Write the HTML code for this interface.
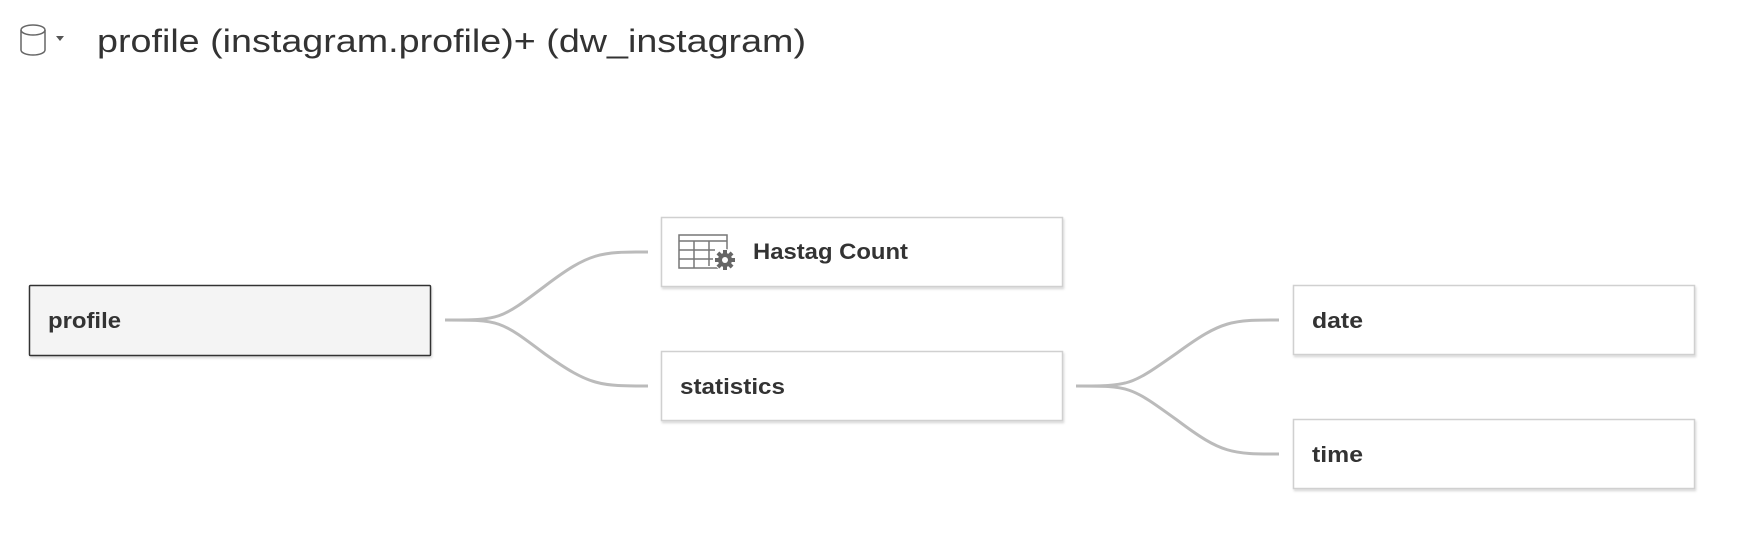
<!DOCTYPE html>
<html><head><meta charset="utf-8"><style>
html,body{margin:0;padding:0;background:#fff;}
svg{display:block;}
text{font-family:"Liberation Sans",sans-serif;}
</style></head><body>
<svg width="1746" height="552" viewBox="0 0 1746 552" xmlns="http://www.w3.org/2000/svg">
<defs>
<filter id="sh" x="-5%" y="-10%" width="110%" height="130%">
<feDropShadow dx="1" dy="2" stdDeviation="1" flood-color="#000" flood-opacity="0.15"/>
</filter>
</defs>
<!-- cylinder icon -->
<g fill="none" stroke="#666" stroke-width="1.5">
<ellipse cx="33" cy="30" rx="12" ry="5"/>
<path d="M21 30 V50 A12 5 0 0 0 45 50 V30"/>
</g>
<path d="M56 36 L64 36 L60 41 Z" fill="#555"/>
<text x="97" y="52" font-size="32" fill="#333" textLength="709" lengthAdjust="spacingAndGlyphs">profile (instagram.profile)+ (dw_instagram)</text>

<!-- connectors -->
<g fill="none" stroke="#bbb" stroke-width="3">
<path d="M445 320 C500 320 500 320 545 286 C590 252 600 252 648 252"/>
<path d="M445 320 C500 320 500 320 545 354 C590 386 600 386 648 386"/>
<path d="M1076 386 C1130 386 1130 386 1177 353 C1222 320 1232 320 1279 320"/>
<path d="M1076 386 C1130 386 1130 386 1177 420 C1222 454 1232 454 1279 454"/>
</g>

<!-- nodes -->
<rect x="29.5" y="285.5" width="401" height="70" fill="#f4f4f4" stroke="#333" stroke-width="1.5" rx="1" filter="url(#sh)"/>
<text x="48" y="328" font-size="22" font-weight="bold" fill="#333" textLength="73" lengthAdjust="spacingAndGlyphs">profile</text>

<rect x="661.5" y="217.5" width="401" height="69" fill="#fff" stroke="#d0d0d0" stroke-width="1.5" filter="url(#sh)"/>
<g stroke="#777" stroke-width="1.5" fill="none">
<rect x="679" y="235" width="48" height="33"/>
<line x1="679" y1="241" x2="727" y2="241"/>
<line x1="679" y1="250" x2="715" y2="250"/>
<line x1="679" y1="259" x2="713" y2="259"/>
<line x1="694" y1="241" x2="694" y2="268"/>
<line x1="709" y1="241" x2="709" y2="266"/>
</g>
<circle cx="725" cy="260" r="11" fill="#fff"/>
<g fill="#666">
<circle cx="725" cy="260" r="7"/>
<rect x="723" y="250" width="4" height="20"/>
<rect x="715" y="258" width="20" height="4"/>
<rect x="723" y="250" width="4" height="20" transform="rotate(45 725 260)"/>
<rect x="723" y="250" width="4" height="20" transform="rotate(-45 725 260)"/>
</g>
<circle cx="725" cy="260" r="3" fill="#fff"/>
<text x="753" y="259" font-size="22" font-weight="bold" fill="#333" textLength="155" lengthAdjust="spacingAndGlyphs">Hastag Count</text>

<rect x="661.5" y="351.5" width="401" height="69" fill="#fff" stroke="#d0d0d0" stroke-width="1.5" filter="url(#sh)"/>
<text x="680" y="394" font-size="22" font-weight="bold" fill="#333" textLength="105" lengthAdjust="spacingAndGlyphs">statistics</text>

<rect x="1293.5" y="285.5" width="401" height="69" fill="#fff" stroke="#d0d0d0" stroke-width="1.5" filter="url(#sh)"/>
<text x="1312" y="328" font-size="22" font-weight="bold" fill="#333" textLength="51" lengthAdjust="spacingAndGlyphs">date</text>

<rect x="1293.5" y="419.5" width="401" height="69" fill="#fff" stroke="#d0d0d0" stroke-width="1.5" filter="url(#sh)"/>
<text x="1312" y="462" font-size="22" font-weight="bold" fill="#333" textLength="51" lengthAdjust="spacingAndGlyphs">time</text>
</svg>
</body></html>
